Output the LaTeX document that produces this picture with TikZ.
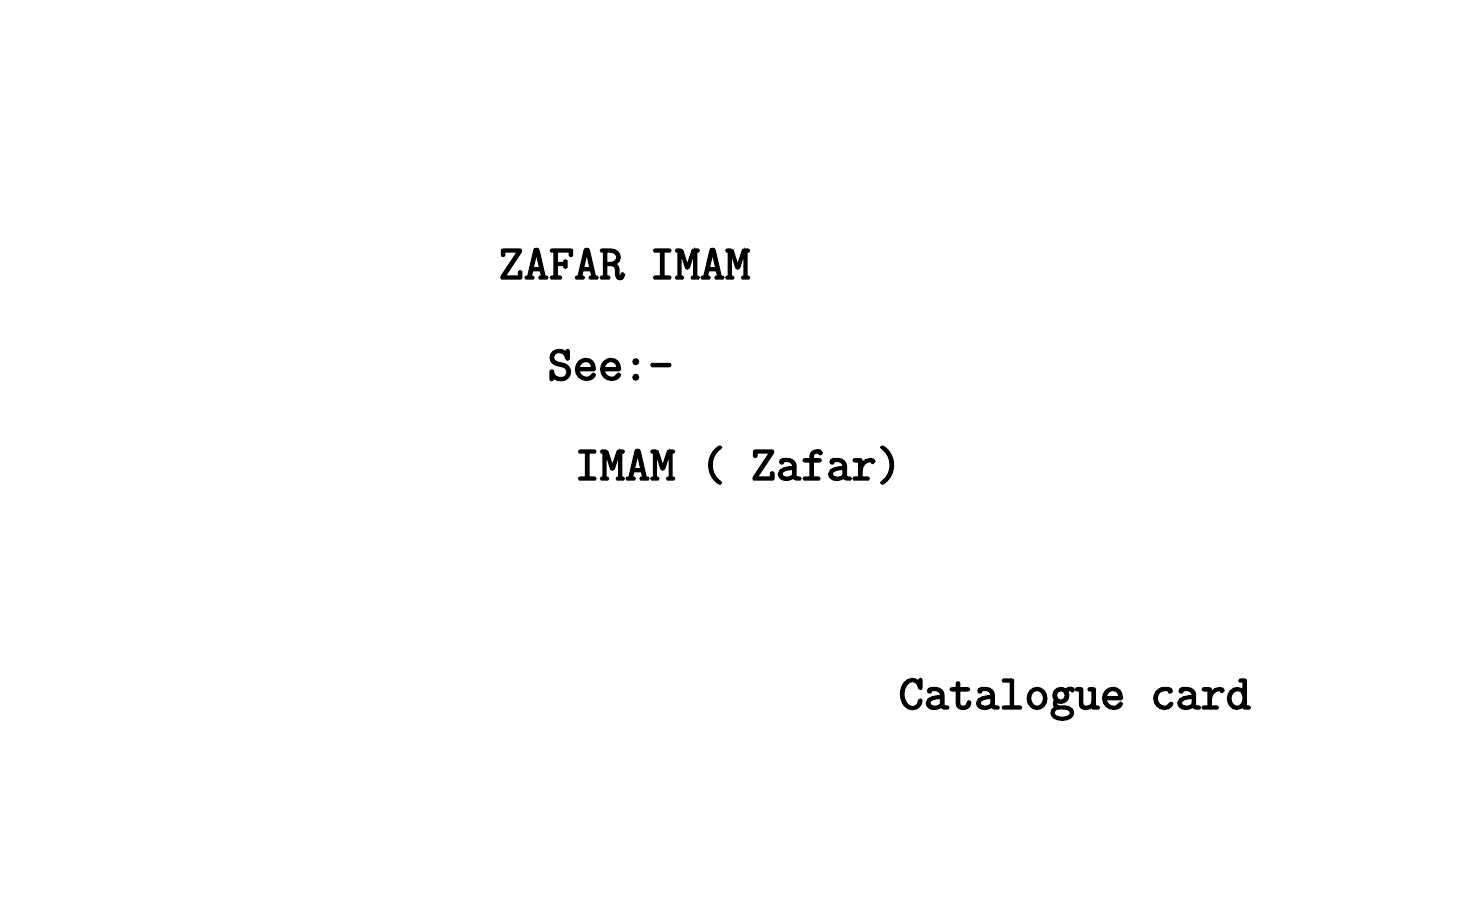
\documentclass[tikz,border=0pt]{standalone}
\usepackage{fontspec}
\newfontfamily\cardfont[FakeBold=3]{Latin Modern Mono}
\usepackage{tikz}

\begin{document}
\begin{tikzpicture}
        [x=1cm,y=1cm,every node/.style={anchor=base west,inner sep=0pt,
        font=\cardfont\fontsize{13.9}{16}\selectfont}]
        \useasboundingbox (0,0) rectangle (14.78,9.09);
        \node (name) at (4.98,6.30) {ZAFAR IMAM}; \node (see) at (5.47,5.29)
        {See:-}; \node (ref) at (5.74,4.29) {IMAM ( Zafar)};
        \node (card) at (8.98,2.00) {Catalogue card};
    \end{tikzpicture}
\end{document}
